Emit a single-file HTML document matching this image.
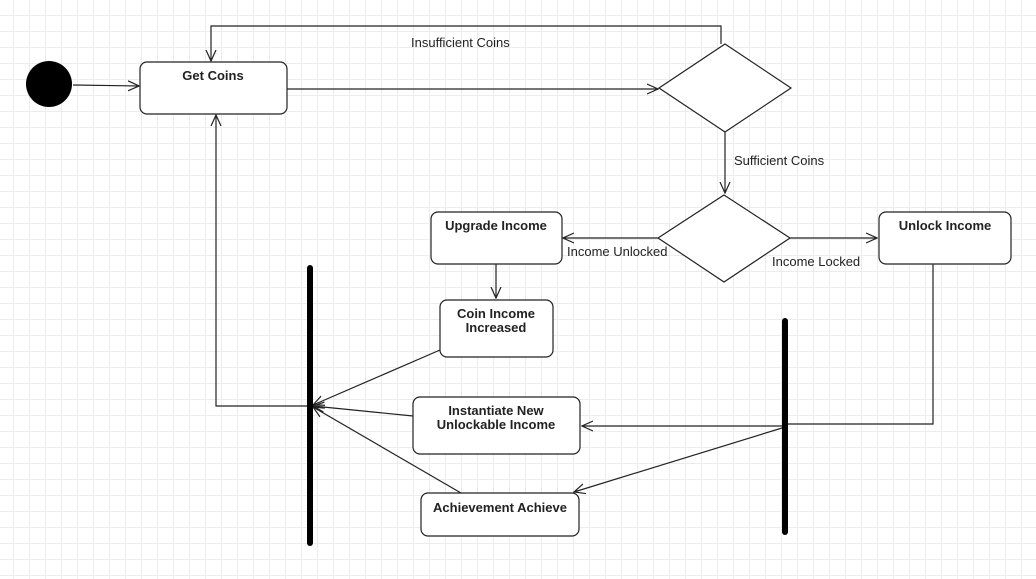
<!DOCTYPE html>
<html><head><style>
body{margin:0;width:1036px;height:579px;overflow:hidden;background:#fff;
background-image:linear-gradient(#ececec 1px,transparent 1px),linear-gradient(90deg,#ececec 1px,transparent 1px);
background-size:16px 16px;background-position:13px 15px;}
svg{position:absolute;left:0;top:0}
text{font-family:"Liberation Sans",sans-serif;font-size:13px;fill:#222}
.b{font-weight:bold;text-anchor:middle}
</style></head><body>
<svg width="1036" height="579" viewBox="0 0 1036 579">
<defs><marker id="a" markerWidth="12" markerHeight="12" refX="11" refY="6" orient="auto" markerUnits="userSpaceOnUse"><path d="M0,1 L11,6 L0,11" fill="none" stroke="#222" stroke-width="1.2"/></marker></defs>
<g fill="none" stroke="#222" stroke-width="1.2">
<circle cx="49" cy="84" r="23" fill="#000" stroke="none"/>
<line x1="73" y1="85" x2="139" y2="86" marker-end="url(#a)"/>
<rect x="140" y="62" width="147" height="52" rx="7" fill="#fff"/>
<line x1="287" y1="89" x2="658" y2="89" marker-end="url(#a)"/>
<polygon points="725,44 791,88 725,132 659,88" fill="#fff"/>
<polyline points="721,44 721,26 211,26 211,61" marker-end="url(#a)"/>
<line x1="725" y1="132" x2="725" y2="193" marker-end="url(#a)"/>
<polygon points="724,195 790,238 724,282 658,238" fill="#fff"/>
<line x1="658" y1="238" x2="563" y2="238" marker-end="url(#a)"/>
<line x1="790" y1="238" x2="877" y2="238" marker-end="url(#a)"/>
<rect x="431" y="212" width="131" height="52" rx="7" fill="#fff"/>
<rect x="879" y="212" width="132" height="52" rx="7" fill="#fff"/>
<line x1="496" y1="264" x2="496" y2="298" marker-end="url(#a)"/>
<rect x="440" y="300" width="113" height="57" rx="7" fill="#fff"/>
<rect x="413" y="397" width="167" height="57" rx="7" fill="#fff"/>
<rect x="421" y="493" width="158" height="43" rx="7" fill="#fff"/>
<polyline points="933,264 933,424 788,424"/>
<line x1="782" y1="426" x2="582" y2="426" marker-end="url(#a)"/>
<line x1="782" y1="428" x2="574" y2="492" marker-end="url(#a)"/>
<line x1="440" y1="350" x2="313" y2="405" marker-end="url(#a)"/>
<line x1="413" y1="416" x2="313" y2="406" marker-end="url(#a)"/>
<line x1="461" y1="493" x2="313" y2="407" marker-end="url(#a)"/>
<polyline points="310,406 216,406 216,115" marker-end="url(#a)"/>
</g>
<rect x="307" y="265" width="6" height="281" rx="3" fill="#000"/>
<rect x="782" y="318" width="6" height="217" rx="3" fill="#000"/>
<text class="b" x="213" y="80">Get Coins</text>
<text class="b" x="496" y="230">Upgrade Income</text>
<text class="b" x="945" y="230">Unlock Income</text>
<text class="b" x="496" y="318">Coin Income</text>
<text class="b" x="496" y="332">Increased</text>
<text class="b" x="496" y="415">Instantiate New</text>
<text class="b" x="496" y="429">Unlockable Income</text>
<text class="b" x="500" y="512">Achievement Achieve</text>
<text x="411" y="47">Insufficient Coins</text>
<text x="734" y="165">Sufficient Coins</text>
<text x="567" y="256">Income Unlocked</text>
<text x="772" y="266">Income Locked</text>
</svg>
</body></html>
